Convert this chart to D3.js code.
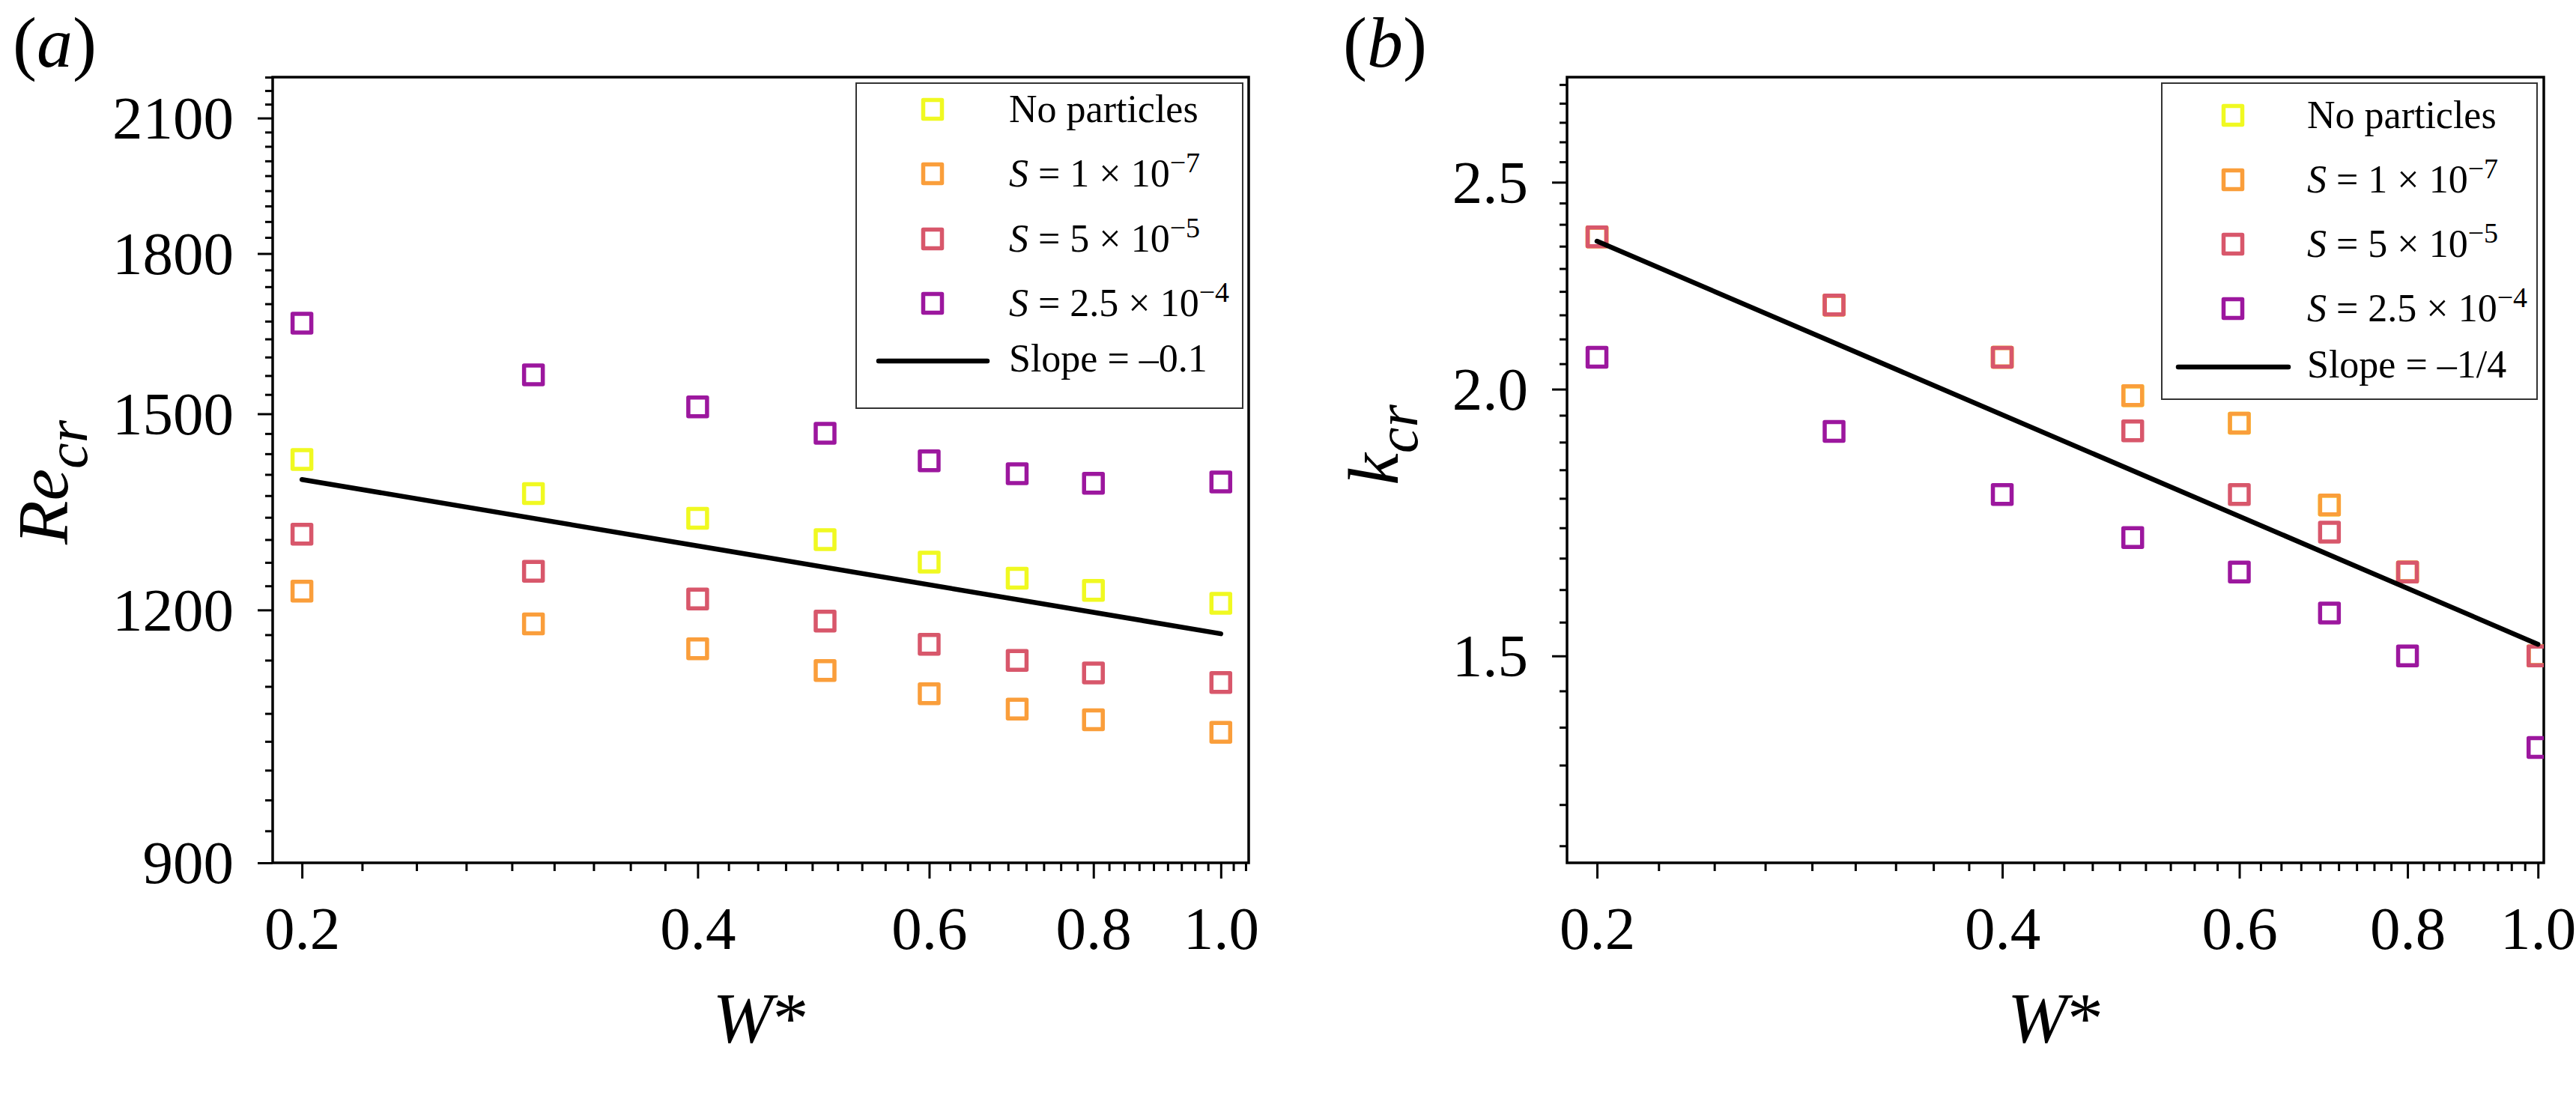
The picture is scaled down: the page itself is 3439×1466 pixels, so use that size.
<!DOCTYPE html>
<html>
<head>
<meta charset="utf-8">
<script src="https://d3js.org/d3.v7.min.js"></script>
<style>
  body { margin: 0; background: #fff; }
  text { font-family: "Liberation Serif", "Times New Roman", serif; fill: #000; }
</style>
</head>
<body>
<svg width="3439" height="1466"></svg>
<script>
// data
var wStar = [0.2, 0.3, 0.4, 0.5, 0.6, 0.7, 0.8, 1.0];

var reNoParticles = [1424, 1370, 1332, 1300, 1267, 1244, 1227, 1209];
var reS1e7 = [1226, 1181, 1148, 1120, 1091, 1072, 1059, 1044];
var reS5e5 = [1308, 1254, 1215, 1185, 1154, 1133, 1117, 1105];
var reS25e4 = [1663, 1568, 1512, 1467, 1422, 1401, 1386, 1388];

var kNoParticles = [2.357, 2.19, 2.07, 1.986, 1.928, 1.765, 1.642, 1.5];
var kS1e7 = [2.357, 2.19, 2.07, 1.986, 1.928, 1.765, 1.642, 1.5];
var kS5e5 = [2.357, 2.19, 2.07, 1.912, 1.785, 1.714, 1.642, 1.5];
var kS25e4 = [2.07, 1.911, 1.785, 1.704, 1.642, 1.571, 1.5, 1.359];

var fitW = [0.2, 1.0];
var reFit = [1392, 1168];
var kFit = [2.346, 1.519];

var wTicks = [0.2, 0.4, 0.6, 0.8, 1.0];
var reTicks = [900, 1200, 1500, 1800, 2100];
var kTicks = [1.5, 2.0, 2.5];

var seriesColors = ["#f0f921", "#fa9e3b", "#d8576b", "#9c179e"];
var seriesLabels = [["No particles"], ["1", "\u22127"], ["5", "\u22125"], ["2.5", "\u22124"]];

var svg = d3.select("svg");

function minorTicks(major, domain) {
  var step = (major[1] - major[0]) / 9;
  var out = [];
  for (var i = -30; i < 300; i++) {
    var v = major[0] + i * step;
    if (v < domain[0] || v > domain[1]) continue;
    if (i % 9 === 0) continue;
    out.push(v);
  }
  return out;
}

function drawPanel(p) {
  var g = svg.append("g");
  var x = d3.scaleLog().domain(p.xDomain).range([p.left, p.right]);
  var y = d3.scaleLog().domain(p.yDomain).range([p.bottom, p.top]);

  svg.append("clipPath").attr("id", "clip-" + p.name)
    .append("rect")
    .attr("x", p.left).attr("y", p.top)
    .attr("width", p.right - p.left).attr("height", p.bottom - p.top);

  // minor ticks
  g.append("g")
    .attr("transform", `translate(0,${p.bottom})`)
    .call(d3.axisBottom(x).tickValues(minorTicks(wTicks, p.xDomain)).tickSize(11).tickFormat(""));
  g.append("g")
    .attr("transform", `translate(${p.left},0)`)
    .call(d3.axisLeft(y).tickValues(minorTicks(p.yTicks, p.yDomain)).tickSize(10).tickFormat(""));

  // major ticks
  var xAxis = g.append("g")
    .attr("class", "xAxis")
    .attr("transform", `translate(0,${p.bottom})`)
    .call(d3.axisBottom(x).tickValues(wTicks).tickFormat(d3.format(".1f")).tickSize(21));
  xAxis.selectAll("text")
    .attr("y", 115).attr("dy", 0)
    .style("font-size", "81px");

  var yAxis = g.append("g")
    .attr("class", "yAxis")
    .attr("transform", `translate(${p.left},0)`)
    .call(d3.axisLeft(y).tickValues(p.yTicks).tickFormat(p.yFormat).tickSize(20).tickPadding(32));
  yAxis.selectAll("text")
    .attr("dy", "0.33em")
    .style("font-size", "81px");

  g.selectAll(".domain").remove();
  g.selectAll(".tick line").attr("stroke", "#000").attr("stroke-width", 3);

  // frame
  g.append("rect")
    .attr("x", p.left).attr("y", p.top)
    .attr("width", p.right - p.left).attr("height", p.bottom - p.top)
    .attr("fill", "none").attr("stroke", "#000").attr("stroke-width", 3.5);

  // points
  var plot = g.append("g").attr("clip-path", `url(#clip-${p.name})`);
  p.series.forEach(function(vals, i) {
    plot.append("g")
      .selectAll("rect")
      .data(wStar.map((w, j) => ({ w: w, v: vals[j] })))
      .join("rect")
      .attr("x", d => x(d.w) - 12.5)
      .attr("y", d => y(d.v) - 12.5)
      .attr("width", 25)
      .attr("height", 25)
      .attr("fill", "none")
      .attr("stroke", seriesColors[i])
      .attr("stroke-width", 5.5)
      .attr("stroke-linejoin", "round");
  });

  // fit line
  var line = d3.line().x(d => x(d[0])).y(d => y(d[1]));
  plot.append("path")
    .datum(fitW.map((w, j) => [w, p.fit[j]]))
    .attr("d", line)
    .attr("fill", "none")
    .attr("stroke", "#000")
    .attr("stroke-width", 6.5)
    .attr("stroke-linecap", "round");

  // legend
  var L = p.legend;
  g.append("rect")
    .attr("x", L.x0).attr("y", L.y0)
    .attr("width", L.x1 - L.x0).attr("height", L.y1 - L.y0)
    .attr("fill", "#fff").attr("stroke", "#333").attr("stroke-width", 2);

  seriesLabels.forEach(function(parts, i) {
    var cy = L.rows[i];
    g.append("rect")
      .attr("x", L.markerX - 12.5).attr("y", cy - 12.5)
      .attr("width", 25).attr("height", 25)
      .attr("fill", "none")
      .attr("stroke", seriesColors[i])
      .attr("stroke-width", 5.5)
      .attr("stroke-linejoin", "round");
    var t = g.append("text")
      .attr("x", L.textX).attr("y", cy + 17)
      .style("font-size", "52px");
    if (parts.length === 1) {
      t.text(parts[0]);
    } else {
      t.append("tspan").style("font-style", "italic").text("S");
      t.append("tspan").text(" = " + parts[0] + " \u00d7 10");
      t.append("tspan").attr("dy", -19).style("font-size", "38px").text(parts[1]);
    }
  });

  g.append("line")
    .attr("x1", L.lineX0).attr("x2", L.lineX1)
    .attr("y1", L.lineY).attr("y2", L.lineY)
    .attr("stroke", "#000").attr("stroke-width", 6.5)
    .attr("stroke-linecap", "round");
  g.append("text")
    .attr("x", L.textX).attr("y", L.lineY + 14)
    .style("font-size", "52px")
    .text(p.fitLabel);

  // axis titles
  var xt = g.append("text")
    .attr("x", (p.left + p.right) / 2)
    .attr("y", 1392)
    .attr("text-anchor", "middle")
    .style("font-size", "96px");
  xt.append("tspan").style("font-style", "italic").text("W");
  xt.append("tspan").text("*");

  var yt = g.append("text")
    .attr("transform", `translate(${p.yLabelX},${p.yLabelY}) rotate(-90)`)
    .attr("text-anchor", "middle")
    .style("font-size", "96px")
    .style("font-style", "italic");
  yt.append("tspan").text(p.yLabel[0]);
  yt.append("tspan").attr("dy", 26).style("font-size", "78px").text(p.yLabel[1]);

  // panel letter
  var pl = g.append("text")
    .attr("x", p.letterX).attr("y", 89)
    .style("font-size", "96px");
  pl.append("tspan").text("(");
  pl.append("tspan").style("font-style", "italic").text(p.name);
  pl.append("tspan").text(")");
}

drawPanel({
  name: "a",
  left: 364, right: 1667, top: 103, bottom: 1152,
  xDomain: [0.19, 1.05],
  yDomain: [900, 2200],
  yTicks: reTicks,
  yFormat: d3.format("d"),
  series: [reNoParticles, reS1e7, reS5e5, reS25e4],
  fit: reFit,
  fitLabel: "Slope = \u20130.1",
  yLabel: ["Re", "cr"],
  yLabelX: 90, yLabelY: 644,
  letterX: 17,
  legend: {
    x0: 1143, y0: 111, x1: 1659, y1: 545,
    markerX: 1245, textX: 1347,
    lineX0: 1173, lineX1: 1318,
    rows: [146, 232, 319, 405], lineY: 482
  }
});

drawPanel({
  name: "b",
  left: 2092, right: 3396, top: 103, bottom: 1152,
  xDomain: [0.19, 1.01],
  yDomain: [1.2, 2.8],
  yTicks: kTicks,
  yFormat: d3.format(".1f"),
  series: [kNoParticles, kS1e7, kS5e5, kS25e4],
  fit: kFit,
  fitLabel: "Slope = \u20131/4",
  yLabel: ["k", "cr"],
  yLabelX: 1866, yLabelY: 594,
  letterX: 1793,
  legend: {
    x0: 2886, y0: 111, x1: 3387, y1: 533,
    markerX: 2981, textX: 3080,
    lineX0: 2908, lineX1: 3055,
    rows: [154, 240, 326, 412], lineY: 490
  }
});
</script>
</body>
</html>
